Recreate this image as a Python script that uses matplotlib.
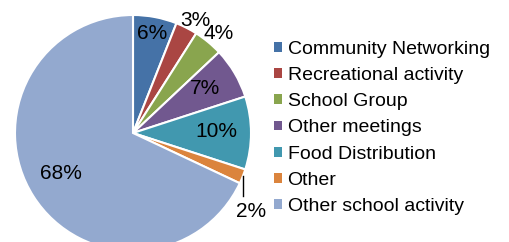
import numpy as np
import matplotlib.pyplot as plt
from matplotlib.patches import Patch

categories = [
    "Community Networking",
    "Recreational activity",
    "School Group",
    "Other meetings",
    "Food Distribution",
    "Other",
    "Other school activity",
]
values = [6, 3, 4, 7, 10, 2, 68]
labels = ["6%", "3%", "4%", "7%", "10%", "2%", "68%"]
colors = ["#4572A7", "#AA4643", "#89A54E", "#71588F", "#4198AF", "#DB843D", "#93A9CF"]

# label distance from centre (fraction of radius) and small angle tweak
label_dist = [0.86, 1.09, 1.11, 0.72, 0.71, 1.2, 0.7]
label_dang = [0, -2, -1, 1, 1, -12, -3]

plt.rcParams["font.family"] = ["Liberation Sans", "DejaVu Sans"]

fig = plt.figure(figsize=(5.09, 2.42), dpi=100)
R = 118
cx, cy = 133, 242 - 133
ax = fig.add_axes([(cx - R) / 509, (cy - R) / 242, 2 * R / 509, 2 * R / 242])

wedges, _ = ax.pie(
    values,
    colors=colors,
    startangle=90,
    counterclock=False,
    radius=1,
    wedgeprops=dict(edgecolor="white", linewidth=1.5),
)
ax.set_xlim(-1, 1)
ax.set_ylim(-1, 1)
ax.set_aspect("equal")
ax.axis("off")

for i, w in enumerate(wedges):
    mid = (w.theta1 + w.theta2) / 2
    ang = np.deg2rad(mid + label_dang[i])
    x = label_dist[i] * np.cos(ang)
    y = label_dist[i] * np.sin(ang)
    ax.text(x, y, labels[i], ha="center", va="center", fontsize=15, color="black", clip_on=False)
    if labels[i] == "2%":
        ex = np.cos(np.deg2rad(mid))
        ey = np.sin(np.deg2rad(mid))
        ax.plot([ex, ex], [ey, ey - 0.17], color="black", lw=1, clip_on=False)

handles = [Patch(facecolor=c, edgecolor="none") for c in colors]
fig.legend(
    handles,
    categories,
    loc="center left",
    bbox_to_anchor=(274 / 509, (242 - 128) / 242),
    frameon=False,
    fontsize=14,
    handlelength=0.4,
    handleheight=0.4,
    handletextpad=0.3,
    labelspacing=0.47,
    borderpad=0,
    borderaxespad=0,
)

fig.savefig("out.png", dpi=100)
